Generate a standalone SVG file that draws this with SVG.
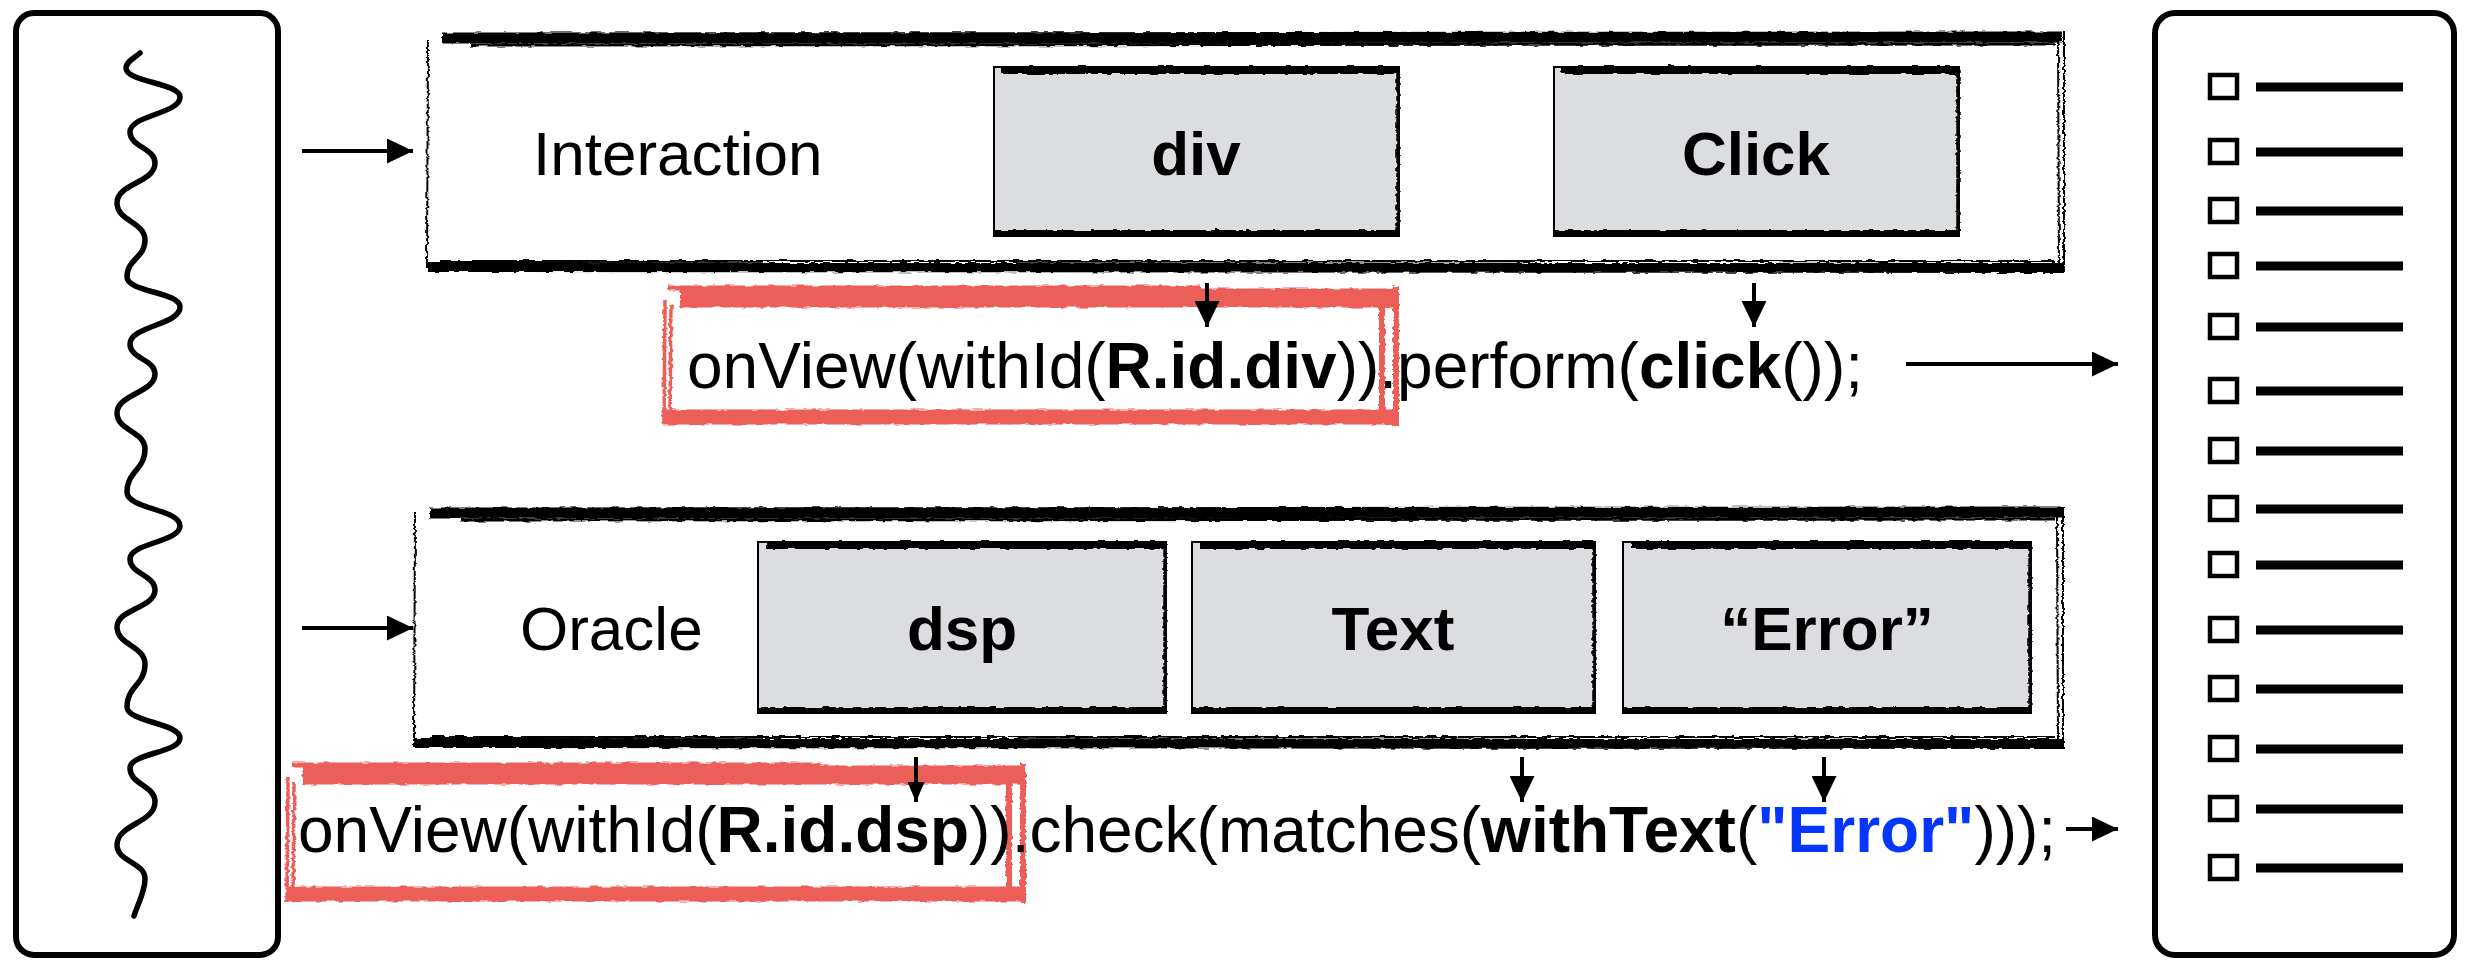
<svg xmlns="http://www.w3.org/2000/svg" width="2482" height="962" viewBox="0 0 2482 962">
<defs>
<filter id="rough" x="-2%" y="-20%" width="104%" height="140%">
<feTurbulence type="fractalNoise" baseFrequency="0.09 0.3" numOctaves="2" seed="4" result="n"/>
<feDisplacementMap in="SourceGraphic" in2="n" scale="4" xChannelSelector="R" yChannelSelector="G"/>
</filter>
<marker id="ah" viewBox="0 0 26 25" refX="26" refY="12.5" markerWidth="26" markerHeight="25" markerUnits="userSpaceOnUse" orient="auto">
<path d="M0 0 L26 12.5 L0 25 Z" fill="#000"/>
</marker>
<marker id="ahs" viewBox="0 0 20 17" refX="20" refY="8.5" markerWidth="20" markerHeight="17" markerUnits="userSpaceOnUse" orient="auto">
<path d="M0 0 L20 8.5 L0 17 Z" fill="#000"/>
</marker>
<style>
.lbl{font-family:"Liberation Sans",Arial,Helvetica,sans-serif;font-size:62px;fill:#000}
.b{font-weight:bold}
.mid{text-anchor:middle}
.code{font-family:"Liberation Sans",Arial,Helvetica,sans-serif;font-size:64px;fill:#000}
.blue{fill:#0536ff}
.sk{fill:none;stroke:#000;stroke-linecap:butt}
.rd{fill:none;stroke:#ec5e58;stroke-linecap:butt}
.gbox{fill:#dcdde0;stroke:#000;stroke-width:2}
.con{fill:none;stroke:#000;stroke-width:4}
.frame{fill:#fff;stroke:#000;stroke-width:6}
.cb{fill:#fff;stroke:#000;stroke-width:4.5}
.ln{stroke:#000;stroke-width:9}
</style>
</defs>
<rect width="2482" height="962" fill="#fff"/>

<g id="trace">
<rect class="frame" x="16" y="13" width="262" height="942" rx="18"/>
<path fill="none" stroke="#000" stroke-width="5.5" stroke-linecap="round" d="M140 53 C134 58 126 62 126 68 C126 82 180 83 180 97 C180 114 130 115 130 132 C130 147 155 148 155 163 C155 183 117 183 117 203 C117 221 145 222 145 240 C145 258 127 259 127 277 C127 292 180 292 180 307 C180 325 130 326 130 344 C130 359 155 359 155 374 C155 393 117 394 117 413 C117 431 145 431 145 449 C145 470 127 471 127 492 C127 509 180 509 180 526 C180 542 130 543 130 559 C130 574 155 575 155 590 C155 608 117 609 117 627 C117 645 145 646 145 664 C145 685 127 686 127 707 C127 722 180 723 180 738 C180 753 130 753 130 768 C130 785 155 785 155 802 C155 823 117 824 117 845 C117 862 145 862 145 879 C145 892 138 903 134 916"/>
</g>

<g id="interaction">
<rect x="427" y="38" width="1632" height="229" fill="#fff"/>
<g filter="url(#rough)">
<path class="sk" stroke-width="2" d="M428 40 L427 268 M2058 34 L2059 270"/>
<path class="sk" stroke-width="11" d="M442 38 L2062 37"/>
<path class="sk" stroke-width="3" d="M470 45 L2055 44"/>
<path class="sk" stroke-width="10" d="M428 267 L2064 268"/>
<path class="sk" stroke-width="2" d="M440 261 L2055 261 M2064 31 L2064 272"/>
</g>
<text class="lbl" x="533" y="175">Interaction</text>
</g>

<g id="div">
<rect class="gbox" x="994" y="67" width="405" height="169"/>
<g filter="url(#rough)">
<path class="sk" stroke-width="8" d="M1001 70 L1399 70"/>
<path class="sk" stroke-width="6" d="M994 233 L1400 233"/>
<path class="sk" stroke-width="3.5" d="M1398 66 L1398 236"/>
</g>
<text class="lbl b mid" x="1196" y="175">div</text>
</g>

<g id="click">
<rect class="gbox" x="1554" y="67" width="405" height="169"/>
<g filter="url(#rough)">
<path class="sk" stroke-width="8" d="M1561 70 L1959 70"/>
<path class="sk" stroke-width="6" d="M1554 233 L1960 233"/>
<path class="sk" stroke-width="3.5" d="M1958 66 L1958 236"/>
</g>
<text class="lbl b mid" x="1756" y="175">Click</text>
</g>

<g id="redbox1" filter="url(#rough)">
<path class="rd" stroke-width="19" d="M680 298 L1398 298"/>
<path class="rd" stroke-width="5" d="M668 288 L1200 288"/>
<path class="rd" stroke-width="3.5" d="M665 300 L664 424 M671 305 L670 420"/>
<path class="rd" stroke-width="15" d="M663 417 L1399 417"/>
<path class="rd" stroke-width="6" d="M1382 292 L1382 412 M1396 286 L1396 426"/>
</g>

<g id="code1">
<text class="code" x="687" y="388">onView(withId(<tspan class="b">R.id.div</tspan>)).perform(<tspan class="b">click</tspan>());</text>
</g>

<g id="oracle">
<rect x="414" y="512" width="1645" height="233" fill="#fff"/>
<g filter="url(#rough)">
<path class="sk" stroke-width="2" d="M415 512 L414 747 M2057 510 L2058 745"/>
<path class="sk" stroke-width="11" d="M430 513 L2062 512"/>
<path class="sk" stroke-width="3" d="M460 520 L2055 519"/>
<path class="sk" stroke-width="10" d="M415 743 L2064 744"/>
<path class="sk" stroke-width="2" d="M430 737 L2055 737 M2063 507 L2063 748"/>
</g>
<text class="lbl" x="520" y="650">Oracle</text>
</g>

<g id="dsp">
<rect class="gbox" x="758" y="542" width="408" height="171"/>
<g filter="url(#rough)">
<path class="sk" stroke-width="8" d="M766 545 L1166 545"/>
<path class="sk" stroke-width="6" d="M758 710 L1167 710"/>
<path class="sk" stroke-width="3.5" d="M1165 541 L1165 713"/>
</g>
<text class="lbl b mid" x="962" y="650">dsp</text>
</g>

<g id="text">
<rect class="gbox" x="1192" y="542" width="403" height="171"/>
<g filter="url(#rough)">
<path class="sk" stroke-width="8" d="M1200 545 L1595 545"/>
<path class="sk" stroke-width="6" d="M1192 710 L1596 710"/>
<path class="sk" stroke-width="3.5" d="M1594 541 L1594 713"/>
</g>
<text class="lbl b mid" x="1393" y="650">Text</text>
</g>

<g id="error">
<rect class="gbox" x="1623" y="542" width="408" height="171"/>
<g filter="url(#rough)">
<path class="sk" stroke-width="8" d="M1631 545 L2031 545"/>
<path class="sk" stroke-width="6" d="M1623 710 L2032 710"/>
<path class="sk" stroke-width="3.5" d="M2030 541 L2030 713"/>
</g>
<text class="lbl b mid" x="1827" y="650">“Error”</text>
</g>

<g id="redbox2" filter="url(#rough)">
<path class="rd" stroke-width="19" d="M302 775 L1024 775"/>
<path class="rd" stroke-width="5" d="M292 765 L820 765"/>
<path class="rd" stroke-width="3.5" d="M288 777 L287 902 M294 782 L293 897"/>
<path class="rd" stroke-width="15" d="M286 894 L1026 894"/>
<path class="rd" stroke-width="6" d="M1009 768 L1009 890 M1023 763 L1023 903"/>
</g>

<g id="code2">
<text class="code" x="298" y="852">onView(withId(<tspan class="b">R.id.dsp</tspan>)).check(matches(<tspan class="b">withText</tspan>(<tspan class="b blue">"Error"</tspan>)));</text>
</g>

<g id="testlist">
<rect class="frame" x="2155" y="13" width="299" height="942" rx="20"/>
<g>
<rect class="cb" x="2210" y="75" width="27" height="23"/><line class="ln" x1="2256" y1="87" x2="2403" y2="87"/>
<rect class="cb" x="2210" y="140" width="27" height="23"/><line class="ln" x1="2256" y1="152" x2="2403" y2="152"/>
<rect class="cb" x="2210" y="199" width="27" height="23"/><line class="ln" x1="2256" y1="211" x2="2403" y2="211"/>
<rect class="cb" x="2210" y="254" width="27" height="23"/><line class="ln" x1="2256" y1="266" x2="2403" y2="266"/>
<rect class="cb" x="2210" y="315" width="27" height="23"/><line class="ln" x1="2256" y1="327" x2="2403" y2="327"/>
<rect class="cb" x="2210" y="379" width="27" height="23"/><line class="ln" x1="2256" y1="391" x2="2403" y2="391"/>
<rect class="cb" x="2210" y="439" width="27" height="23"/><line class="ln" x1="2256" y1="451" x2="2403" y2="451"/>
<rect class="cb" x="2210" y="497" width="27" height="23"/><line class="ln" x1="2256" y1="509" x2="2403" y2="509"/>
<rect class="cb" x="2210" y="553" width="27" height="23"/><line class="ln" x1="2256" y1="565" x2="2403" y2="565"/>
<rect class="cb" x="2210" y="618" width="27" height="23"/><line class="ln" x1="2256" y1="630" x2="2403" y2="630"/>
<rect class="cb" x="2210" y="677" width="27" height="23"/><line class="ln" x1="2256" y1="689" x2="2403" y2="689"/>
<rect class="cb" x="2210" y="737" width="27" height="23"/><line class="ln" x1="2256" y1="749" x2="2403" y2="749"/>
<rect class="cb" x="2210" y="797" width="27" height="23"/><line class="ln" x1="2256" y1="809" x2="2403" y2="809"/>
<rect class="cb" x="2210" y="856" width="27" height="23"/><line class="ln" x1="2256" y1="868" x2="2403" y2="868"/>
</g>
</g>

<g id="connectors">
<line class="con" x1="302" y1="151" x2="413" y2="151" marker-end="url(#ah)"/>
<line class="con" x1="302" y1="628" x2="413" y2="628" marker-end="url(#ah)"/>
<line class="con" x1="1207" y1="283" x2="1207" y2="327" stroke-width="2.5" marker-end="url(#ah)"/>
<line class="con" x1="1754" y1="283" x2="1754" y2="327" marker-end="url(#ah)"/>
<line class="con" x1="1906" y1="364" x2="2118" y2="364" marker-end="url(#ah)"/>
<line class="con" x1="916" y1="757" x2="916" y2="802" stroke-width="3" marker-end="url(#ahs)"/>
<line class="con" x1="1522" y1="757" x2="1522" y2="802" marker-end="url(#ah)"/>
<line class="con" x1="1824" y1="757" x2="1824" y2="802" marker-end="url(#ah)"/>
<line class="con" x1="2066" y1="829" x2="2118" y2="829" marker-end="url(#ah)"/>
</g>
</svg>
